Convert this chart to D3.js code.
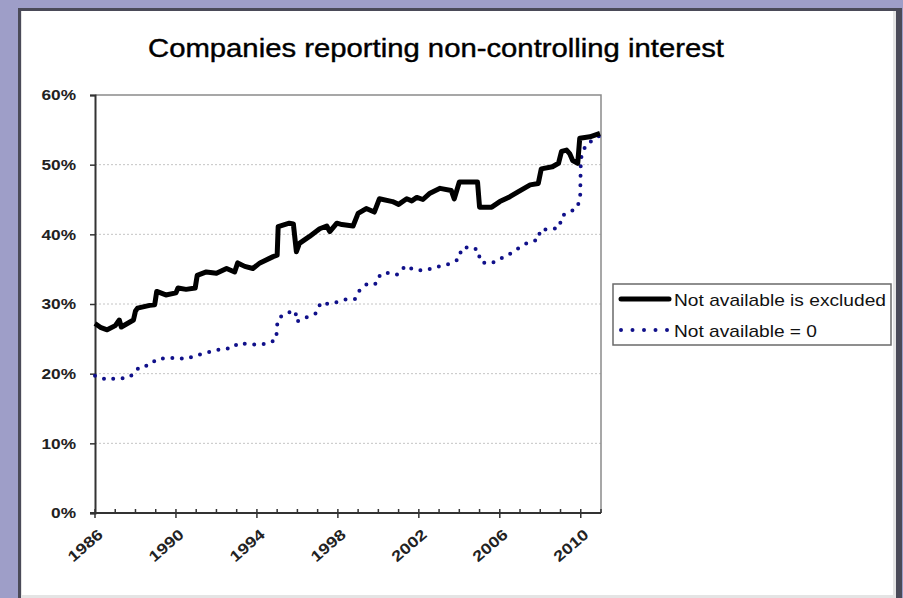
<!DOCTYPE html>
<html>
<head>
<meta charset="utf-8">
<script src="https://cdn.jsdelivr.net/npm/d3@7"></script>
<style>
  body { margin: 0; background: #a0a0c8; }
  svg { display: block; font-family: Arial, "Liberation Sans", sans-serif; }
</style>
</head>
<body>
<div id="canvas"></div>
<script>
const canvas = d3.select("#canvas");

// series: "Not available is excluded" (black)
const exclYears = [1986.0, 1986.3, 1986.6, 1987.0, 1987.2, 1987.3, 1987.6, 1987.9, 1988.0, 1988.1,
  1988.7, 1988.95, 1989.05, 1989.5, 1990.0, 1990.1, 1990.5, 1990.95, 1991.05, 1991.5,
  1992.0, 1992.5, 1992.9, 1993.05, 1993.4, 1993.8, 1994.15, 1994.8, 1995.0, 1995.05,
  1995.6, 1995.8, 1995.95, 1996.1, 1996.6, 1997.1, 1997.45, 1997.6, 1997.95, 1998.2,
  1998.75, 1999.0, 1999.4, 1999.8, 2000.05, 2000.7, 2001.0, 2001.4, 2001.65, 2001.9,
  2002.2, 2002.55, 2003.05, 2003.6, 2003.75, 2004.0, 2004.9, 2005.0, 2005.6, 2006.0,
  2006.5, 2006.9, 2007.5, 2007.9, 2008.05, 2008.6, 2008.9, 2009.05, 2009.3, 2009.45,
  2009.6, 2009.85, 2009.95, 2010.45, 2010.95];
const exclValues = [27.2, 26.6, 26.3, 26.9, 27.7, 26.7, 27.2, 27.7, 29.0, 29.4,
  29.8, 29.9, 31.8, 31.3, 31.6, 32.3, 32.1, 32.3, 34.1, 34.6,
  34.4, 35.1, 34.6, 35.9, 35.4, 35.1, 35.9, 36.8, 37.0, 41.1,
  41.6, 41.5, 37.5, 38.7, 39.7, 40.8, 41.2, 40.4, 41.6, 41.4,
  41.2, 43.0, 43.7, 43.2, 45.1, 44.7, 44.3, 45.1, 44.8, 45.3,
  45.0, 45.9, 46.6, 46.3, 45.1, 47.5, 47.5, 43.9, 43.9, 44.7,
  45.4, 46.1, 47.1, 47.3, 49.4, 49.7, 50.2, 51.9, 52.1, 51.6,
  50.6, 50.2, 53.8, 54.0, 54.5];

// series: "Not available = 0" (blue dotted)
const zeroYears = [1986.0, 1986.6, 1987.15, 1987.5, 1987.9, 1988.2, 1988.7, 1989.05, 1989.55, 1990.0,
  1990.5, 1991.0, 1991.45, 1991.8, 1992.3, 1992.75, 1993.1, 1993.6, 1994.05, 1994.5,
  1994.95, 1995.0, 1995.05, 1995.45, 1995.9, 1995.97, 1996.1, 1996.55, 1996.95, 1997.15,
  1997.55, 1998.0, 1998.45, 1998.85, 1999.1, 1999.5, 1999.9, 2000.1, 2000.55, 2000.95,
  2001.35, 2001.75, 2002.2, 2002.65, 2003.0, 2003.55, 2004.0, 2004.1, 2004.6, 2004.95,
  2005.02, 2005.4, 2005.85, 2006.25, 2006.65, 2007.0, 2007.45, 2007.9, 2008.0, 2008.55,
  2008.95, 2009.05, 2009.4, 2009.8, 2009.97, 2010.0, 2010.05, 2010.3, 2010.6, 2010.95];
const zeroValues = [19.7, 19.1, 19.4, 19.3, 19.9, 21.0, 21.2, 22.1, 22.2, 22.3,
  22.1, 22.6, 23.0, 23.2, 23.6, 23.6, 24.4, 24.2, 24.2, 24.3,
  24.9, 27.0, 27.9, 28.7, 29.0, 27.4, 27.7, 28.2, 28.7, 30.2,
  30.0, 30.3, 30.7, 30.7, 32.1, 33.0, 32.9, 34.3, 34.5, 34.2,
  35.5, 34.9, 34.8, 35.1, 35.4, 35.8, 36.5, 38.0, 38.2, 37.7,
  36.1, 35.8, 36.1, 36.9, 37.4, 38.2, 38.9, 39.2, 40.7, 40.7,
  41.0, 42.6, 43.2, 43.7, 45.1, 50.2, 51.6, 53.0, 53.5, 54.2];

const yTicks = [0, 10, 20, 30, 40, 50, 60];
const xLabelYears = [1986, 1990, 1994, 1998, 2002, 2006, 2010];
const xMinorYears = d3.range(1986, 2012);
const seriesNames = ["Not available is excluded", "Not available = 0"];
const title = "Companies reporting non-controlling interest";

const width = 903, height = 598;
const svg = canvas.append("svg").attr("width", width).attr("height", height);

// frame
svg.append("rect").attr("x", 0).attr("y", 0).attr("width", width).attr("height", height).attr("fill", "#9e9ec8");
svg.append("rect").attr("x", 18).attr("y", 8).attr("width", 884).attr("height", 592).attr("fill", "#4a4a58");
svg.append("rect").attr("x", 21).attr("y", 11).attr("width", 875).attr("height", 587).attr("fill", "#e4e4e4");
svg.append("rect").attr("x", 22).attr("y", 11).attr("width", 871).attr("height", 584).attr("fill", "#fff");

const plot = { left: 95, right: 601, top: 95, bottom: 513 };

const x = d3.scaleLinear().domain([1986, 2011]).range([plot.left, plot.right]);
const y = d3.scaleLinear().domain([0, 60]).range([plot.bottom, plot.top]);

// stretch text horizontally like the original picture
const stretch = (sel, k) => sel.each(function () {
  const w = this.getComputedTextLength();
  d3.select(this).attr("textLength", w * k).attr("lengthAdjust", "spacingAndGlyphs");
});

// title
svg.append("text")
  .attr("x", 436).attr("y", 57)
  .attr("text-anchor", "middle")
  .attr("font-size", 25)
  .attr("fill", "#000").attr("stroke", "#000").attr("stroke-width", 0.4)
  .attr("textLength", 576).attr("lengthAdjust", "spacingAndGlyphs")
  .text(title);

// gridlines
svg.append("g").selectAll("line").data(yTicks.filter(d => d > 0 && d < 60)).join("line")
  .attr("x1", plot.left).attr("x2", plot.right)
  .attr("y1", d => y(d)).attr("y2", d => y(d))
  .attr("stroke", "#c4c4c4").attr("stroke-width", 1).attr("stroke-dasharray", "2 2");

// plot border top/right
svg.append("path")
  .attr("d", `M${plot.left},${y(60)}H${x(2011)}V${y(0)}`)
  .attr("fill", "none").attr("stroke", "#8a8a8a").attr("stroke-width", 1.5);

// y axis
const yAxis = svg.append("g")
  .attr("transform", `translate(${plot.left},0)`)
  .call(d3.axisLeft(y).tickValues(yTicks).tickSize(5).tickPadding(14).tickFormat(d => d + "%"));
yAxis.select(".domain").attr("stroke", "#333").attr("stroke-width", 2);
yAxis.selectAll(".tick line").attr("stroke", "#333").attr("stroke-width", 1.5);
yAxis.selectAll(".tick text")
  .attr("font-size", 15).attr("font-weight", "bold").attr("fill", "#222")
  .attr("font-family", "Arial, 'Liberation Sans', sans-serif")
  .call(stretch, 1.15);

// x axis
const xg = svg.append("g").attr("transform", `translate(0,${plot.bottom})`);
xg.append("line").attr("x1", plot.left - 5).attr("x2", x(2011)).attr("y1", 0).attr("y2", 0)
  .attr("stroke", "#333").attr("stroke-width", 2);
xg.selectAll(".minor").data(xMinorYears.filter(d => !xLabelYears.includes(d))).join("line")
  .attr("class", "minor")
  .attr("x1", d => x(d)).attr("x2", d => x(d)).attr("y1", -4).attr("y2", 0)
  .attr("stroke", "#333").attr("stroke-width", 1.5);
xg.selectAll(".major").data(xLabelYears).join("line")
  .attr("class", "major")
  .attr("x1", d => x(d)).attr("x2", d => x(d)).attr("y1", -4).attr("y2", 5)
  .attr("stroke", "#333").attr("stroke-width", 1.5);
xg.selectAll("text").data(xLabelYears).join("text")
  .attr("transform", d => `translate(${x(d) + 9},23) rotate(-41)`)
  .attr("text-anchor", "end")
  .attr("font-size", 15).attr("font-weight", "bold").attr("fill", "#222")
  .text(d => d)
  .call(stretch, 1.22);

// lines
const line = d3.line().x(d => x(d[0])).y(d => y(d[1]));

svg.append("path")
  .datum(d3.zip(zeroYears, zeroValues))
  .attr("d", line)
  .attr("fill", "none").attr("stroke", "#10108a")
  .attr("stroke-width", 4).attr("stroke-linecap", "round")
  .attr("stroke-dasharray", "0 9.5");

svg.append("path")
  .datum(d3.zip(exclYears, exclValues))
  .attr("d", line)
  .attr("fill", "none").attr("stroke", "#000")
  .attr("stroke-width", 5).attr("stroke-linejoin", "round");

// legend
const lg = svg.append("g");
lg.append("rect").attr("x", 613).attr("y", 284).attr("width", 278).attr("height", 61)
  .attr("fill", "#fff").attr("stroke", "#6a6a6a").attr("stroke-width", 1.5);
const rows = [
  { name: seriesNames[0], y: 299, color: "#000", dash: null, w: 212 },
  { name: seriesNames[1], y: 330, color: "#10108a", dash: "0 11.5", w: 143 }
];
rows.forEach(r => {
  lg.append("line").attr("x1", 621).attr("x2", 669).attr("y1", r.y).attr("y2", r.y)
    .attr("stroke", r.color).attr("stroke-width", r.dash ? 4 : 5)
    .attr("stroke-linecap", "round")
    .attr("stroke-dasharray", r.dash);
  lg.append("text").attr("x", 674).attr("y", r.y + 7)
    .attr("font-size", 17).attr("fill", "#111")
    .attr("textLength", r.w).attr("lengthAdjust", "spacingAndGlyphs")
    .text(r.name);
});
</script>
</body>
</html>
